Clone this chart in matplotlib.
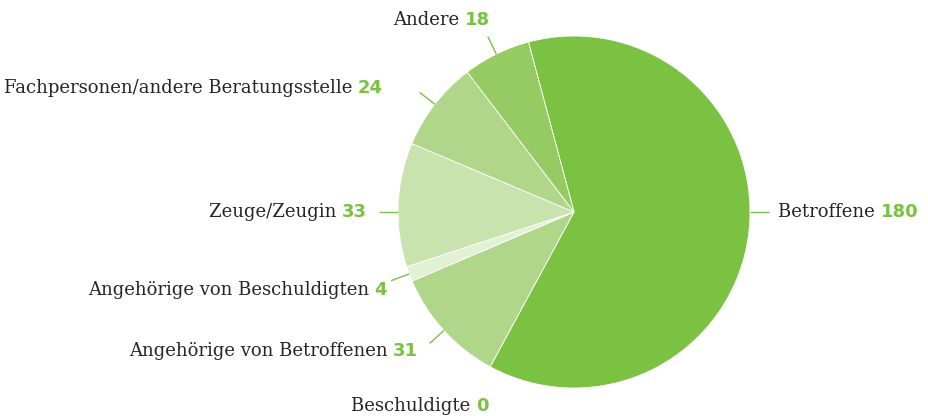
import numpy as np
import matplotlib
matplotlib.use("Agg")
import matplotlib.pyplot as plt

# data (clockwise from top)
names = ["Betroffene", "Angehörige von Betroffenen", "Beschuldigte",
         "Angehörige von Beschuldigten", "Zeuge/Zeugin",
         "Fachpersonen/andere Beratungsstelle", "Andere"]
values = [180, 31, 0, 4, 33, 24, 18]
colors = ["#7bc142", "#b0d68a", "#b0d68a", "#e2f0d4", "#c8e3ae", "#b0d68a", "#95cb62"]

# label layout (text anchor in pie radius units, alignment side)
label_pos = [(1.16, 0.0, "left"), (-0.886, -0.79, "right"), (-0.483, -1.10, "right"),
             (-1.0625, -0.443, "right"), (-1.176, 0.0, "right"),
             (-1.085, 0.705, "right"), (-0.477, 1.09, "right")]
leader_angle = [90, None, None, None, 270, None, None]  # override (deg clockwise from top)

green = "#7bc142"
grey = "#262626"
fs = 13

fig = plt.figure(figsize=(9.29, 4.16), dpi=100)
ax = fig.add_axes([0, 0, 1, 1])
start = 105
wedges, _ = ax.pie(values, colors=colors, startangle=start, counterclock=False,
                   wedgeprops=dict(edgecolor="white", linewidth=0.6))
ax.set_aspect("auto")
ax.set_xlim(-574 / 176, (929 - 574) / 176)
ax.set_ylim(-(416 - 212) / 176, 212 / 176)
ax.axis("off")

total = sum(values)
cum = 0
for i, v in enumerate(values):
    mid = cum + v / 2
    cum += v
    ang_cw = mid / total * 360 - (start - 90)  # clockwise from top
    if leader_angle[i] is not None:
        ang_cw = leader_angle[i]
    if v > 0:
        a = np.deg2rad(ang_cw)
        r0, r1 = 1.0, 1.11
        ax.plot([r0 * np.sin(a), r1 * np.sin(a)], [r0 * np.cos(a), r1 * np.cos(a)],
                color=green, lw=1, solid_capstyle="butt")
    x, y, side = label_pos[i]
    if side == "right":
        num = ax.text(x, y, str(v), ha="right", va="center", color=green,
                      fontsize=fs, fontweight="bold", family="DejaVu Sans")
        ax.annotate(names[i] + " ", xy=(0, 0.5), xycoords=num, ha="right", va="center",
                    color=grey, fontsize=fs, family="DejaVu Serif")
    else:
        lab = ax.text(x, y, names[i] + " ", ha="left", va="center", color=grey,
                      fontsize=fs, family="DejaVu Serif")
        ax.annotate(str(v), xy=(1, 0.5), xycoords=lab, ha="left", va="center",
                    color=green, fontsize=fs, fontweight="bold", family="DejaVu Sans")

fig.savefig("out.png", dpi=100)
